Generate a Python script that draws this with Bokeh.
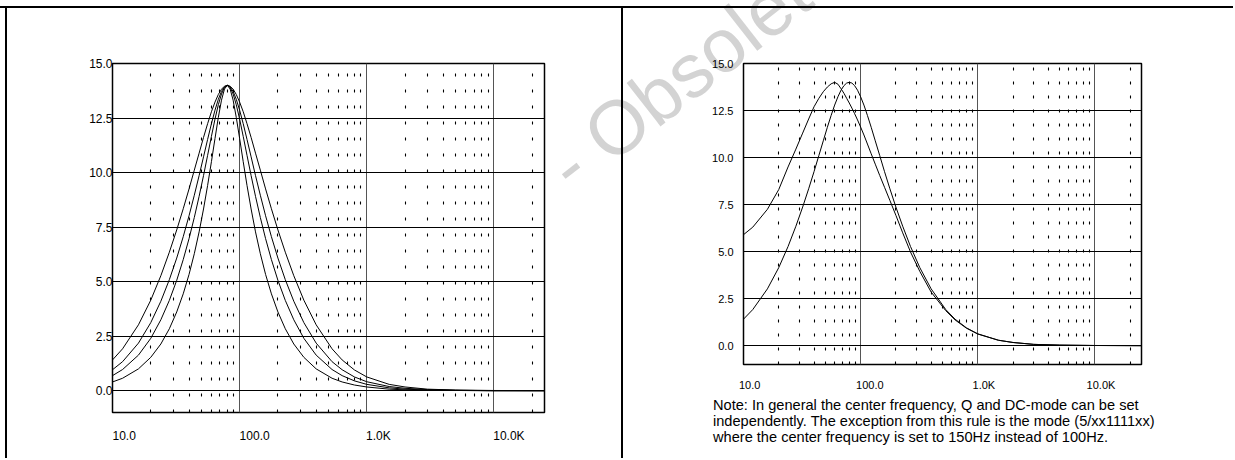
from bokeh.plotting import figure
from bokeh.layouts import row, column
from bokeh.models import FixedTicker, ColumnDataSource, Range1d, Div, Spacer
from bokeh.embed import file_html
from bokeh.resources import INLINE

# ---------------- data ----------------
freq = [10, 12, 16, 20, 24, 28, 32, 36, 40, 44, 48, 52, 56, 60, 64, 68, 72, 76, 80,
        84.2, 88.9, 94.1, 100, 106.7, 114.3, 123.1, 133.3, 145.5, 160, 177.8, 200,
        228.6, 266.7, 320, 400, 533.3, 640,
        800, 1000, 1500, 2000, 3000, 5000, 10000, 25000]

# left chart: four Q settings, centre 80 Hz, +14 dB
gain_q100 = [1.41, 1.92, 3.02, 4.15, 5.27, 6.35, 7.37, 8.34, 9.25, 10.11, 10.89, 11.61, 12.24, 12.79, 13.23, 13.58, 13.82, 13.96, 14.0,
             13.96, 13.82, 13.58, 13.23, 12.79, 12.24, 11.61, 10.89, 10.11, 9.25, 8.34, 7.37, 6.35, 5.27, 4.15, 3.02, 1.92, 1.41,
             0.95, 0.63, 0.29, 0.17, 0.07, 0.03, 0.01, 0.0]
gain_q125 = [0.96, 1.33, 2.18, 3.12, 4.10, 5.09, 6.08, 7.06, 8.02, 8.96, 9.86, 10.72, 11.52, 12.24, 12.86, 13.36, 13.72, 13.93, 14.0,
             13.93, 13.72, 13.36, 12.86, 12.24, 11.52, 10.72, 9.86, 8.96, 8.02, 7.06, 6.08, 5.09, 4.10, 3.12, 2.18, 1.33, 0.96,
             0.63, 0.41, 0.19, 0.11, 0.05, 0.02, 0.0, 0.0]
gain_q150 = [0.69, 0.97, 1.63, 2.40, 3.25, 4.14, 5.06, 6.01, 6.97, 7.94, 8.91, 9.86, 10.79, 11.66, 12.45, 13.11, 13.60, 13.90, 14.0,
             13.90, 13.60, 13.11, 12.45, 11.66, 10.79, 9.86, 8.91, 7.94, 6.97, 6.01, 5.06, 4.14, 3.25, 2.40, 1.63, 0.97, 0.69,
             0.45, 0.29, 0.13, 0.07, 0.03, 0.01, 0.0, 0.0]
gain_q200 = [0.40, 0.57, 1.00, 1.53, 2.14, 2.84, 3.61, 4.44, 5.33, 6.28, 7.28, 8.33, 9.41, 10.50, 11.56, 12.53, 13.32, 13.83, 14.0,
             13.83, 13.32, 12.53, 11.56, 10.50, 9.41, 8.33, 7.28, 6.28, 5.33, 4.44, 3.61, 2.84, 2.14, 1.53, 1.00, 0.57, 0.40,
             0.26, 0.17, 0.07, 0.04, 0.02, 0.01, 0.0, 0.0]

# right chart: DC-mode off / on
gain_dc_off = [1.41, 1.92, 3.02, 4.15, 5.27, 6.35, 7.37, 8.34, 9.25, 10.11, 10.89, 11.61, 12.24, 12.79, 13.23, 13.58, 13.82, 13.96, 14.0,
               13.96, 13.82, 13.58, 13.23, 12.79, 12.24, 11.61, 10.89, 10.11, 9.25, 8.34, 7.37, 6.35, 5.27, 4.15, 3.02, 1.92, 1.41,
               0.95, 0.63, 0.29, 0.17, 0.07, 0.03, 0.01, 0.0]
gain_dc_on = [5.9, 6.3, 7.25, 8.3, 9.5, 10.45, 11.3, 12.05, 12.7, 13.15, 13.5, 13.75, 13.92, 14.0, 13.9, 13.66, 13.42, 13.15, 12.9,
              12.63, 12.33, 12.0, 11.62, 11.2, 10.72, 10.2, 9.65, 9.05, 8.42, 7.72, 6.93, 6.0, 4.98, 3.95, 2.85, 1.86, 1.37,
              0.93, 0.62, 0.29, 0.17, 0.07, 0.03, 0.01, 0.0]

x_ticks = [10, 100, 1000, 10000]
x_tick_labels = ["10.0", "100.0", "1.0K", "10.0K"]
x_minor = [20, 30, 40, 50, 60, 70, 80, 90, 200, 300, 400, 500, 600, 700, 800, 900,
           2000, 3000, 4000, 5000, 6000, 7000, 8000, 9000, 20000]
y_ticks = [0, 2.5, 5, 7.5, 10, 12.5, 15]
y_tick_labels = ["0.0", "2.5", "5.0", "7.5", "10.0", "12.5", "15.0"]

note_lines = ["Note: In general the center frequency, Q and DC-mode can be set",
              "independently. The exception from this rule is the mode (5/xx1111xx)",
              "where the center frequency is set to 150Hz instead of 100Hz."]
watermark = "- Obsolete"

FONT = "Liberation Sans"
NBSP = "\u00a0"
X_MIN, X_MAX, Y_MIN, Y_MAX = 10, 25000, -1, 15
TOP, BOTTOM = 55, 30          # same vertical borders for both panels (row aligns them)


def make_fig(width, frame_h, bl, fw, lab_size, y_standoff, x_standoff, dash, pads):
    p = figure(width=width, height=TOP + frame_h + BOTTOM, x_axis_type="log",
               x_range=Range1d(X_MIN, X_MAX), y_range=Range1d(Y_MIN, Y_MAX),
               output_backend="svg", toolbar_location=None,
               min_border_left=bl, min_border_right=width - bl - fw,
               min_border_top=TOP, min_border_bottom=BOTTOM,
               background_fill_color="white", border_fill_color=None)
    xt = FixedTicker(ticks=x_ticks, minor_ticks=x_minor)
    yt = FixedTicker(ticks=y_ticks, minor_ticks=[])
    p.xaxis.ticker = xt
    p.yaxis.ticker = yt
    p.xgrid.ticker = xt
    p.ygrid.ticker = yt
    # leading no-break spaces push each label to the right of its tick, as in the reference
    p.xaxis.major_label_overrides = {t: NBSP * n + l for t, l, n in zip(x_ticks, x_tick_labels, pads)}
    p.yaxis.major_label_overrides = {t: l for t, l in zip(y_ticks, y_tick_labels)}
    for ax in (p.xaxis, p.yaxis):
        ax.axis_line_color = None
        ax.major_tick_line_color = None
        ax.minor_tick_line_color = None
        ax.major_tick_out = 0
        ax.major_tick_in = 0
        ax.major_label_text_font = FONT
        ax.major_label_text_font_size = lab_size
        ax.major_label_text_color = "black"
    p.yaxis.major_label_standoff = y_standoff
    p.xaxis.major_label_standoff = x_standoff
    p.xgrid.grid_line_color = "#555555"
    p.xgrid.grid_line_width = 1
    p.xgrid.minor_grid_line_color = "black"
    p.xgrid.minor_grid_line_width = 1.1
    p.xgrid.minor_grid_line_dash = dash
    p.ygrid.grid_line_color = "black"
    p.ygrid.grid_line_width = 1
    p.outline_line_color = "black"
    p.outline_line_width = 1.5
    return p


# ---------------- left chart ----------------
left = make_fig(614, 352, 105, 432, "12px", 0, 12, "3 13", [7, 9, 7, 9])
src_l = ColumnDataSource(dict(freq=freq, q100=gain_q100, q125=gain_q125, q150=gain_q150, q200=gain_q200))
for col in ["q100", "q125", "q150", "q200"]:
    left.line(x="freq", y=col, source=src_l, line_color="black", line_width=1)

# ---------------- right chart ----------------
right = make_fig(610, 301, 120, 398, "11px", 10, 10, "3 11", [4, 6, 4, 4])
src_r = ColumnDataSource(dict(freq=freq, off=gain_dc_off, on=gain_dc_on))
for col in ["off", "on"]:
    right.line(x="freq", y=col, source=src_r, line_color="black", line_width=1)

# ---------------- note under the right chart ----------------
note = Div(text="<br>".join(note_lines), width=520, height=52, margin=(4, 0, 0, 90),
           styles={"font-family": FONT, "font-size": "14.6px", "line-height": "15.8px",
                   "color": "black", "white-space": "nowrap"})


def rule(w, h):
    return Div(text="", width=w, height=h, margin=0, sizing_mode="fixed",
               styles={"background-color": "black"})


# faint diagonal watermark, behind the charts
mark = Div(text=watermark, margin=0,
           styles={"position": "absolute", "left": "534px", "top": "144px",
                   "transform": "rotate(-38deg)", "transform-origin": "0 0",
                   "font-family": FONT, "font-size": "76px", "line-height": "1",
                   "color": "#d3d3d3", "white-space": "nowrap", "z-index": "-1",
                   "pointer-events": "none"})

layout = column(
    mark,
    Spacer(width=1233, height=6, margin=0),
    rule(1233, 2),
    row(Spacer(width=5, height=450, margin=0), rule(2, 450), left, rule(2, 450),
        column(right, note, spacing=0), spacing=0),
    spacing=0)

open("out.html", "w").write(file_html(layout, INLINE))
